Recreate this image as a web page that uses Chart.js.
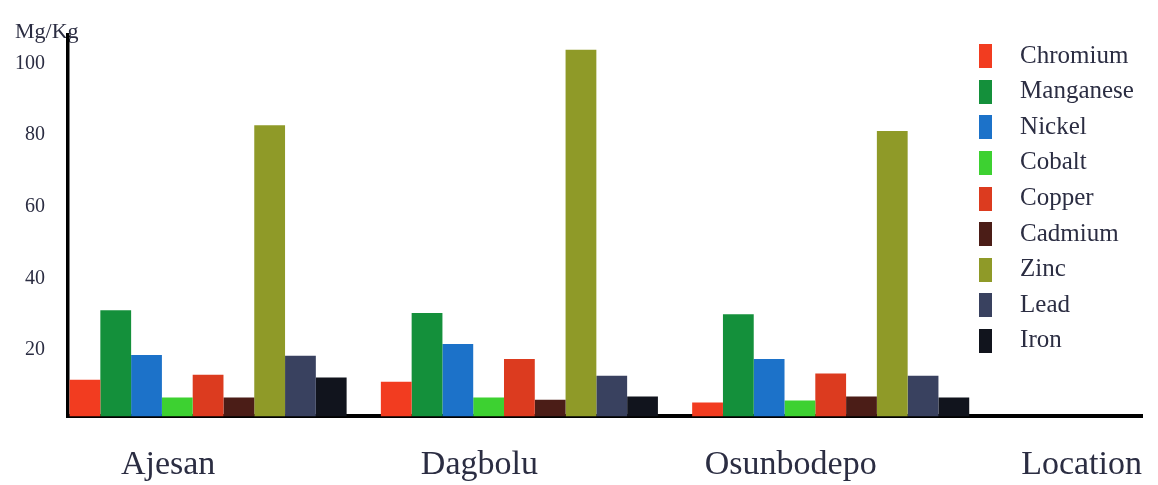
<!DOCTYPE html>
<html>
<head>
<meta charset="utf-8">
<title>Heavy metal concentrations by location</title>
<script src="https://cdn.jsdelivr.net/npm/chart.js@4/dist/chart.umd.min.js"></script>
<style>
  html, body { margin: 0; padding: 0; background: #ffffff; }
  #wrap { position: relative; width: 1158px; height: 485px; }
</style>
</head>
<body>
<div id="wrap"><canvas id="chart"></canvas></div>
<script>
// Sampling locations (x axis categories)
const locations = ['Ajesan', 'Dagbolu', 'Osunbodepo'];

// Metal concentrations in Mg/Kg, one value per location
const metals    = ['Chromium', 'Manganese', 'Nickel', 'Cobalt', 'Copper', 'Cadmium', 'Zinc', 'Lead', 'Iron'];
const chromium  = [11.7, 11.1, 5.3];
const manganese = [31.1, 30.3, 30.0];
const nickel    = [18.6, 21.7, 17.5];
const cobalt    = [6.7, 6.7, 5.9];
const copper    = [13.1, 17.5, 13.4];
const cadmium   = [6.7, 6.1, 7.0];
const zinc      = [82.8, 103.9, 81.2];
const lead      = [18.4, 12.8, 12.8];
const iron      = [12.3, 7.0, 6.7];
const seriesValues = [chromium, manganese, nickel, cobalt, copper, cadmium, zinc, lead, iron];

// Value axis labels
const yTicks = [20, 40, 60, 80, 100];

// Bar fill colours, in the same order as the metals
const colors = ['#f23c20', '#14903b', '#1c72c9', '#3dd131', '#dc3b1f', '#4b1d17', '#8f9a28', '#39415f', '#11141d'];

const textColor = '#2b2d42';
const serif = '"Liberation Serif", "Times New Roman", serif';

// Narrow upright swatch used as the legend marker
function swatch(color) {
  const c = document.createElement('canvas');
  c.width = 13; c.height = 24;
  const g = c.getContext('2d');
  g.fillStyle = color;
  g.fillRect(0, 0, c.width, c.height);
  return c;
}

// Put the legend column in the upper right of the plot area
const legendPlacement = {
  id: 'legendPlacement',
  afterLayout(chart) {
    const lg = chart.legend;
    if (!lg) return;
    const area = chart.chartArea;
    lg.left = area.right - 189;
    lg.top = area.top - 2;
    lg.width = 200;
    lg.height = 370;
    lg.right = lg.left + lg.width;
    lg.bottom = lg.top + lg.height;
  }
};

const datasets = metals.map((name, i) => ({
  label: name,
  data: seriesValues[i].map((v, k) => ({ x: k, y: v })),
  backgroundColor: colors[i],
  borderWidth: 0,
  barPercentage: 1.0,
  categoryPercentage: 0.89,
  clip: 0
}));

new Chart(document.getElementById('chart'), {
  type: 'bar',
  data: { datasets },
  plugins: [legendPlacement],
  options: {
    responsive: true,
    maintainAspectRatio: false,
    animation: false,
    layout: { padding: { left: 15, right: 16, top: 0, bottom: 0 } },
    plugins: {
      tooltip: { enabled: false },
      title: {
        display: true,
        text: 'Mg/Kg',
        align: 'start',
        color: textColor,
        font: { family: serif, size: 22, weight: 'normal', lineHeight: 1.2 },
        padding: { top: 16, bottom: -10 }
      },
      legend: {
        position: 'chartArea',
        align: 'start',
        labels: {
          usePointStyle: true,
          pointStyleWidth: 44,
          boxHeight: 24,
          padding: 10.6,
          color: textColor,
          font: { family: serif, size: 25 },
          generateLabels(chart) {
            return chart.data.datasets.map((ds, i) => ({
              text: ds.label,
              fillStyle: ds.backgroundColor,
              strokeStyle: ds.backgroundColor,
              lineWidth: 0,
              pointStyle: swatch(ds.backgroundColor),
              fontColor: textColor,
              hidden: false,
              datasetIndex: i
            }));
          }
        }
      }
    },
    scales: {
      x: {
        type: 'linear',
        offset: false,
        min: -0.45,
        max: 3.0,
        grid: { display: false, drawTicks: false, offset: false },
        border: { display: true, color: '#000000', width: 4 },
        afterBuildTicks(scale) {
          scale.ticks = locations.map((_, k) => ({ value: k }));
        },
        ticks: {
          padding: 28,
          labelOffset: -40,
          color: textColor,
          font: { family: serif, size: 34, lineHeight: 1.2 },
          callback: (v) => locations[v]
        },
        title: {
          display: true,
          text: 'Location',
          align: 'end',
          color: textColor,
          font: { family: serif, size: 34, lineHeight: 1.2 },
          padding: { top: -68.8, bottom: 0 }
        }
      },
      y: {
        min: 1.5,
        max: 108,
        grid: { display: false, drawTicks: false },
        border: { display: true, color: '#000000', width: 3.5 },
        afterBuildTicks(scale) {
          scale.ticks = yTicks.map(v => ({ value: v }));
        },
        afterFit(scale) {
          scale.width = 53;
        },
        ticks: {
          padding: 23,
          color: textColor,
          font: { family: serif, size: 20 }
        }
      }
    }
  }
});
</script>
</body>
</html>
